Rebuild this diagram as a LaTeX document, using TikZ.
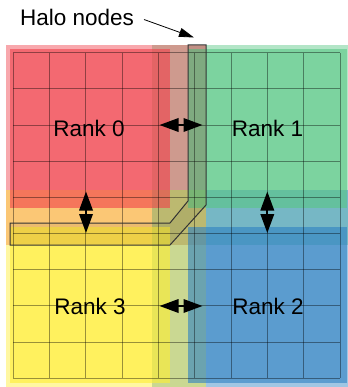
\documentclass[tikz,border=0pt]{standalone}
\usepackage{fontspec}
\setmainfont{Liberation Sans}
\usetikzlibrary{arrows.meta}
\definecolor{rk0}{RGB}{241,64,74}
\definecolor{rk1}{RGB}{88,199,133}
\definecolor{rk2}{RGB}{45,129,195}
\definecolor{rk3}{RGB}{255,238,49}
\tikzset{
  lightlayer/.style={fill=#1, fill opacity=0.45, draw=none},
  mainlayer/.style={fill=#1, fill opacity=0.6, draw=none},
  gridline/.style={draw=black, draw opacity=0.4, line width=1pt},
  halobox/.style={draw=black!80, line width=1pt, fill=black, fill opacity=0.06},
  xarrow/.style={-{Triangle[length=19pt,width=13.5pt]}, line width=1.8pt, black},
  labeltext/.style={font=\fontsize{22.5}{26}\selectfont, inner sep=0pt},
  pointer/.style={-{Triangle[length=15pt,width=9pt]}, line width=0.8pt, black}
}
\begin{document}
\begin{tikzpicture}[x=1pt,y=-1pt]
\useasboundingbox (0,0) rectangle (347,387);
\fill[white] (0,0) rectangle (347,387);
% light (halo) layers
\path[lightlayer=rk1] (152,45) rectangle (351,245);
\path[lightlayer=rk0] (6,45) rectangle (206,245);
\path[lightlayer=rk2] (152,190) rectangle (351,387);
\path[lightlayer=rk3] (6,190) rectangle (206,387);
% main layers
\path[mainlayer=rk0] (10,49) rectangle (170,208);
\path[mainlayer=rk1] (188,49) rectangle (347,208);
\path[mainlayer=rk2] (188,227) rectangle (347,383);
\path[mainlayer=rk3] (10,227) rectangle (170,383);
% grid
\foreach \i in {0,...,9}{
  \draw[gridline] ({13.3+36.3*\i},52.7) -- ({13.3+36.3*\i},378.3);
  \draw[gridline] (13.3,{52.7+36.18*\i}) -- (340,{52.7+36.18*\i});
}
% halo box
\path[halobox] (188,45) -- (206,45) -- (206,205) -- (170,245) -- (10,245) -- (10,223) -- (170,223) -- (188,201) -- cycle;
% rank labels
\node[labeltext] (r0) at (89,128) {Rank 0};
\node[labeltext] (r1) at (267.5,128) {Rank 1};
\node[labeltext] (r3) at (90,306.5) {Rank 3};
\node[labeltext] (r2) at (268,306.5) {Rank 2};
% exchange arrows
\coordinate (h01) at (181,125);
\coordinate (h01l) at (159.5,125);
\coordinate (h01r) at (202.5,125);
\draw[xarrow] (h01) -- (h01l);
\draw[xarrow] (h01) -- (h01r);
\coordinate (h32) at (181,306);
\coordinate (h32l) at (159.5,306);
\coordinate (h32r) at (202.5,306);
\draw[xarrow] (h32) -- (h32l);
\draw[xarrow] (h32) -- (h32r);
\coordinate (v03) at (86,212);
\coordinate (v03t) at (86,191.5);
\coordinate (v03b) at (86,233);
\draw[xarrow] (v03) -- (v03t);
\draw[xarrow] (v03) -- (v03b);
\coordinate (v12) at (267.3,212);
\coordinate (v12t) at (267.3,191.5);
\coordinate (v12b) at (267.3,233);
\draw[xarrow] (v12) -- (v12t);
\draw[xarrow] (v12) -- (v12b);
% halo label
\node[labeltext, anchor=west] (halo) at (20,17) {Halo nodes};
\coordinate (halotip) at (194,37.5);
\draw[pointer] (144,19.5) -- (halotip);
\end{tikzpicture}
\end{document}
